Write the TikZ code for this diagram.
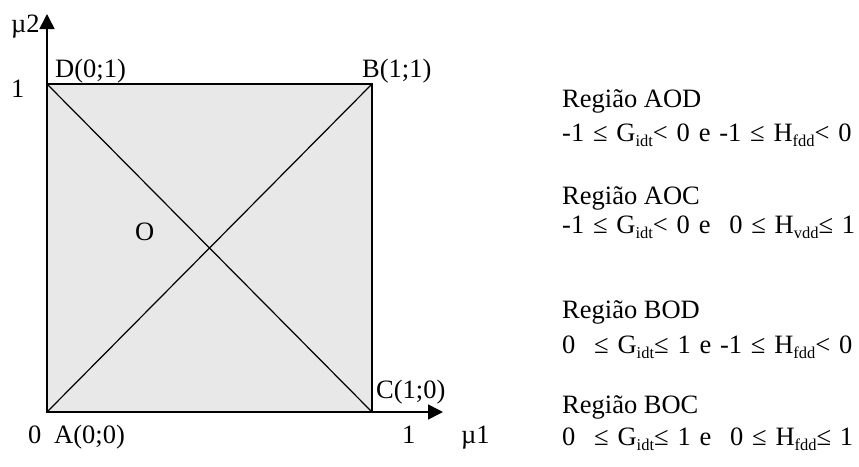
\documentclass[tikz,border=0pt]{standalone}
\usepackage{fontspec}
\setmainfont{Liberation Serif}
\usetikzlibrary{arrows.meta, positioning}
\definecolor{regiongray}{RGB}{232,232,232}
\newcommand{\idx}[1]{\raisebox{-5pt}{\fontsize{16.5}{16.5}\selectfont #1}}
\newcommand{\widesp}{\spaceskip=8.8pt\relax}
\newcommand{\gap}{\hspace{10pt}}

\begin{document}
\begin{tikzpicture}[
    x=1pt, y=-1pt,
    every node/.style={font=\fontsize{26.5}{30}\selectfont, inner sep=0pt},
    axis_line/.style={line width=1.6pt, -{Triangle[length=15pt, width=15pt]}},
    box_line/.style={line width=1.6pt},
    diag_line/.style={line width=1.2pt},
    lbl/.style={anchor=base west},
    cond/.style={lbl, font=\fontsize{26.5}{30}\selectfont\widesp}
    ]
    \useasboundingbox (0,0) rectangle (859,466);

    % Corners and axis ends
    \coordinate (A) at (47,412);
    \coordinate (B) at (372,84);
    \coordinate (C) at (372,412);
    \coordinate (D) at (47,84);
    \coordinate (xend) at (443,412);
    \coordinate (yend) at (47,14);

    % Square and diagonals
    \filldraw[fill=regiongray, box_line] (A) rectangle (B);
    \draw[diag_line] (A) -- (B);
    \draw[diag_line] (D) -- (C);

    % Axes
    \draw[axis_line] (A) -- (xend);
    \draw[axis_line] (A) -- (yend);

    % Axis labels
    \node[lbl] (mu2) at (11,32) {µ2};
    \node[lbl] (one_y) at (11,97) {1};
    \node[lbl] (zero) at (28,443) {0};
    \node[lbl] (one_x) at (402,443) {1};
    \node[lbl] (mu1) at (461,443) {µ1};

    % Corner labels
    \node[lbl] (lblA) at (54,443) {A(0;0)};
    \node[lbl] (lblB) at (362,77) {B(1;1)};
    \node[lbl] (lblC) at (376,398) {C(1;0)};
    \node[lbl] (lblD) at (55,77) {D(0;1)};
    \node[lbl] (lblO) at (135,240) {O};

    % Regions
    \node[lbl] (aod) at (562,107) {Região AOD};
    \node[cond] (aod_c) at (562,141) {-1 ≤ G\idx{idt}< 0 e -1 ≤ H\idx{fdd}< 0};
    \node[lbl] (aoc) at (562,204) {Região AOC};
    \node[cond] (aoc_c) at (562,233) {-1 ≤ G\idx{idt}< 0 e \gap0 ≤ H\idx{vdd}≤ 1};
    \node[lbl] (bod) at (562,318) {Região BOD};
    \node[cond] (bod_c) at (562,353) {0 \gap≤ G\idx{idt}≤ 1 e -1 ≤ H\idx{fdd}< 0};
    \node[lbl] (boc) at (562,413) {Região BOC};
    \node[cond] (boc_c) at (562,445) {0 \gap≤ G\idx{idt}≤ 1 e \gap0 ≤ H\idx{fdd}≤ 1};
\end{tikzpicture}
\end{document}
